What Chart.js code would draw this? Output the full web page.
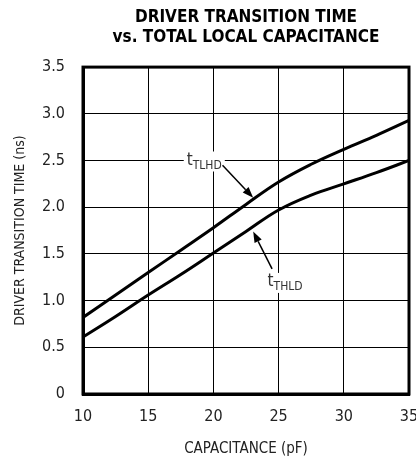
<!DOCTYPE html>
<html>
<head>
<meta charset="utf-8">
<script src="https://cdn.jsdelivr.net/npm/chart.js@4/dist/chart.umd.min.js"></script>
<style>
  html, body { margin: 0; padding: 0; background: #fff; }
  #wrap { width: 416px; height: 458px; }
</style>
</head>
<body>
<div id="wrap"><canvas id="chart" width="416" height="458"></canvas></div>
<script>
// capacitance (pF) sample points
const capacitance = [10, 12.5, 15, 17.5, 20, 22.5, 25, 27.5, 30, 32.5, 35];
// driver transition times (ns)
const tTLHD = [0.82, 1.06, 1.30, 1.54, 1.78, 2.03, 2.27, 2.46, 2.62, 2.77, 2.93];
const tTHLD = [0.61, 0.83, 1.06, 1.28, 1.51, 1.74, 1.97, 2.13, 2.25, 2.37, 2.50];
// axis ticks
const xTicks = [10, 15, 20, 25, 30, 35];
const yTicks = [0, 0.5, 1.0, 1.5, 2.0, 2.5, 3.0, 3.5];

const NARROW = '"Liberation Sans Narrow", "DejaVu Sans Condensed", sans-serif';
const TEXT = '#222';

// curve labels with their arrows, in data coordinates
const curveLabels = [
  { main: 't', sub: 'TLHD', x: 19.3, y: 2.5, from: [20.7, 2.45], to: [23.05, 2.10] },
  { main: 't', sub: 'THLD', x: 25.5, y: 1.2, from: [24.5, 1.34], to: [23.05, 1.74] }
];

function pts(ys) {
  return capacitance.map((c, i) => ({ x: c, y: ys[i] }));
}

// frame around the plot area (top/right edges are not drawn by the axes)
const framePlugin = {
  id: 'frame',
  afterDatasetsDraw(chart) {
    const { ctx, chartArea: a } = chart;
    ctx.save();
    ctx.strokeStyle = '#000';
    ctx.lineWidth = 3;
    ctx.strokeRect(a.left, a.top, a.right - a.left, a.bottom - a.top);
    ctx.restore();
  }
};

// t_TLHD / t_THLD labels with arrows
const labelPlugin = {
  id: 'curveLabels',
  afterDatasetsDraw(chart) {
    const { ctx } = chart;
    const sx = chart.scales.x, sy = chart.scales.y;
    ctx.save();
    curveLabels.forEach(l => {
      const cx = sx.getPixelForValue(l.x), cy = sy.getPixelForValue(l.y);
      ctx.font = '17px ' + NARROW;
      const w1 = ctx.measureText(l.main).width;
      ctx.font = '12px ' + NARROW;
      const w2 = ctx.measureText(l.sub).width;
      const w = w1 + w2;
      ctx.fillStyle = '#fff';
      ctx.fillRect(cx - w / 2 - 3, cy - 9, w + 6, 20);
      ctx.fillStyle = '#333';
      ctx.textBaseline = 'alphabetic';
      ctx.textAlign = 'left';
      ctx.font = '17px ' + NARROW;
      ctx.fillText(l.main, cx - w / 2, cy + 4);
      ctx.font = '12px ' + NARROW;
      ctx.fillText(l.sub, cx - w / 2 + w1, cy + 8);

      // arrow
      const x0 = sx.getPixelForValue(l.from[0]), y0 = sy.getPixelForValue(l.from[1]);
      const x1 = sx.getPixelForValue(l.to[0]), y1 = sy.getPixelForValue(l.to[1]);
      const ang = Math.atan2(y1 - y0, x1 - x0);
      const hl = 11, hw = 4;
      ctx.strokeStyle = '#000';
      ctx.lineWidth = 1.5;
      ctx.beginPath();
      ctx.moveTo(x0, y0);
      ctx.lineTo(x1 - hl * Math.cos(ang), y1 - hl * Math.sin(ang));
      ctx.stroke();
      ctx.fillStyle = '#000';
      ctx.beginPath();
      ctx.moveTo(x1, y1);
      ctx.lineTo(x1 - hl * Math.cos(ang) + hw * Math.sin(ang), y1 - hl * Math.sin(ang) - hw * Math.cos(ang));
      ctx.lineTo(x1 - hl * Math.cos(ang) - hw * Math.sin(ang), y1 - hl * Math.sin(ang) + hw * Math.cos(ang));
      ctx.closePath();
      ctx.fill();
    });
    ctx.restore();
  }
};

const lineStyle = {
  borderColor: '#000',
  borderWidth: 3,
  pointRadius: 0,
  fill: false,
  tension: 0.4
};

new Chart(document.getElementById('chart'), {
  type: 'line',
  data: {
    datasets: [
      { label: 'tTLHD', data: pts(tTLHD), ...lineStyle },
      { label: 'tTHLD', data: pts(tTHLD), ...lineStyle }
    ]
  },
  options: {
    responsive: false,
    animation: false,
    events: [],
    layout: { padding: { left: 0, right: 0, top: 0, bottom: 0 } },
    plugins: {
      legend: { display: false },
      tooltip: { enabled: false },
      title: {
        display: true,
        fullSize: false,
        text: ['DRIVER TRANSITION TIME', 'vs. TOTAL LOCAL CAPACITANCE'],
        color: '#000',
        font: { family: NARROW, size: 17, weight: 'bold', lineHeight: 1.15 },
        padding: { top: 8, bottom: 20 }
      }
    },
    scales: {
      x: {
        type: 'linear',
        min: 10, max: 35,
        afterBuildTicks: s => { s.ticks = xTicks.map(v => ({ value: v })); },
        afterFit: s => { s.height = 64; s.paddingRight = 7; s.paddingLeft = 0; },
        ticks: { color: TEXT, font: { family: NARROW, size: 16 }, padding: 13, maxRotation: 0 },
        grid: { color: '#000', lineWidth: 1, drawTicks: false },
        border: { color: '#000', width: 3 },
        title: { display: true, text: 'CAPACITANCE (pF)', color: TEXT, font: { family: NARROW, size: 15 }, padding: { top: 4, bottom: 0 } }
      },
      y: {
        min: 0, max: 3.5,
        afterBuildTicks: s => { s.ticks = yTicks.map(v => ({ value: v })); },
        afterFit: s => { s.width = 83; },
        ticks: {
          color: TEXT, font: { family: NARROW, size: 16 }, padding: 18,
          callback: v => v === 0 ? '0' : v.toFixed(1)
        },
        grid: { color: '#000', lineWidth: 1, drawTicks: false },
        border: { color: '#000', width: 3 },
        title: { display: true, text: 'DRIVER TRANSITION TIME (ns)', color: TEXT, font: { family: NARROW, size: 14 }, padding: { top: 12, bottom: 0 } }
      }
    }
  },
  plugins: [framePlugin, labelPlugin]
});
</script>
</body>
</html>
